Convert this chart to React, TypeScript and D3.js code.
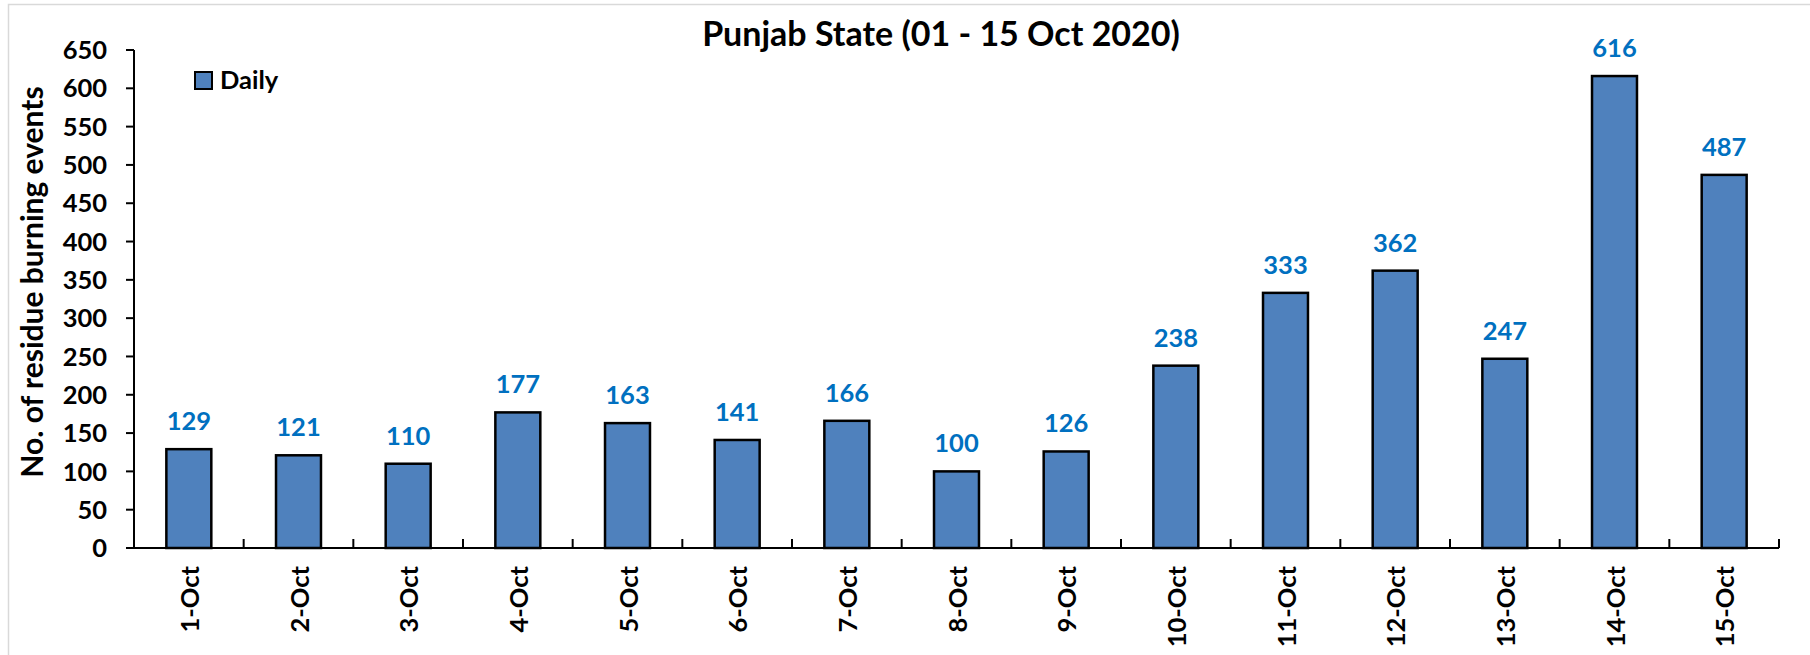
import React from "react";
import * as d3 from "d3";

const categories = ["1-Oct", "2-Oct", "3-Oct", "4-Oct", "5-Oct", "6-Oct", "7-Oct", "8-Oct", "9-Oct", "10-Oct", "11-Oct", "12-Oct", "13-Oct", "14-Oct", "15-Oct"];
const dailyValues = [129, 121, 110, 177, 163, 141, 166, 100, 126, 238, 333, 362, 247, 616, 487];
const yTicks = [0, 50, 100, 150, 200, 250, 300, 350, 400, 450, 500, 550, 600, 650];
const titleText = "Punjab State (01 - 15 Oct 2020)";
const yTitle = "No. of residue burning events";
const legendLabel = "Daily";

const W = 1810;
const H = 655;
const FONT = "Lato, 'Open Sans', sans-serif";

export default function App() {
  const left = 134;
  const right = 1779;
  const top = 50;
  const bottom = 548;

  const x = d3.scaleBand<string>().domain(categories).range([left, right]).paddingInner(0).paddingOuter(0);
  const y = d3.scaleLinear().domain([0, 650]).range([bottom, top]);
  const bw = x.bandwidth();
  const barW = bw * 0.41;

  return (
    <svg width={W} height={H} style={{ position: "absolute", left: 0, top: 0, background: "#fff" }} fontFamily={FONT}>
      <rect x={8.5} y={4.5} width={W + 10} height={H + 10} fill="#fff" stroke="#d9d9d9" strokeWidth={1.5} />
      <text x={941} y={46} textAnchor="middle" fontSize={34} fontWeight="bold" fill="#000">{titleText}</text>

      {/* y axis title */}
      <text transform={`translate(43, 282) rotate(-90)`} textAnchor="middle" fontSize={30} fontWeight="bold" fill="#000">{yTitle}</text>

      {/* bars */}
      {dailyValues.map((v, i) => {
        const cx = (x(categories[i]) as number) + bw / 2;
        return (
          <g key={i}>
            <rect x={cx - barW / 2} y={y(v)} width={barW} height={y(0) - y(v)} fill="#4F81BD" stroke="#000" strokeWidth={2.5} />
            <text x={cx} y={y(v) - 19} textAnchor="middle" fontSize={25.5} fontWeight="bold" fill="#0070C0">{v}</text>
          </g>
        );
      })}

      {/* y axis */}
      <line x1={left} x2={left} y1={top} y2={bottom} stroke="#000" strokeWidth={2} />
      {yTicks.map((t) => (
        <g key={t}>
          <line x1={left - 8} x2={left} y1={y(t)} y2={y(t)} stroke="#000" strokeWidth={2} />
          <text x={107} y={y(t)} dy="0.36em" textAnchor="end" fontSize={25.5} fontWeight="bold" fill="#000">{t}</text>
        </g>
      ))}

      {/* x axis */}
      <line x1={left} x2={right} y1={bottom} y2={bottom} stroke="#000" strokeWidth={2} />
      {categories.map((c, i) => (
        <line key={"t" + i} x1={(x(c) as number) + bw} x2={(x(c) as number) + bw} y1={bottom} y2={bottom - 9} stroke="#000" strokeWidth={2} />
      ))}
      {categories.map((c) => {
        const cx = (x(c) as number) + bw / 2;
        return (
          <text key={c} transform={`translate(${cx + 1}, 566) rotate(-90)`} textAnchor="end" dy="0.36em" fontSize={25.5} fontWeight="bold" fill="#000">{c}</text>
        );
      })}

      {/* legend */}
      <rect x={195} y={72} width={17} height={17} fill="#4F81BD" stroke="#000" strokeWidth={2} />
      <text x={220} y={89} fontSize={25.5} fontWeight="bold" fill="#000">{legendLabel}</text>
    </svg>
  );
}
